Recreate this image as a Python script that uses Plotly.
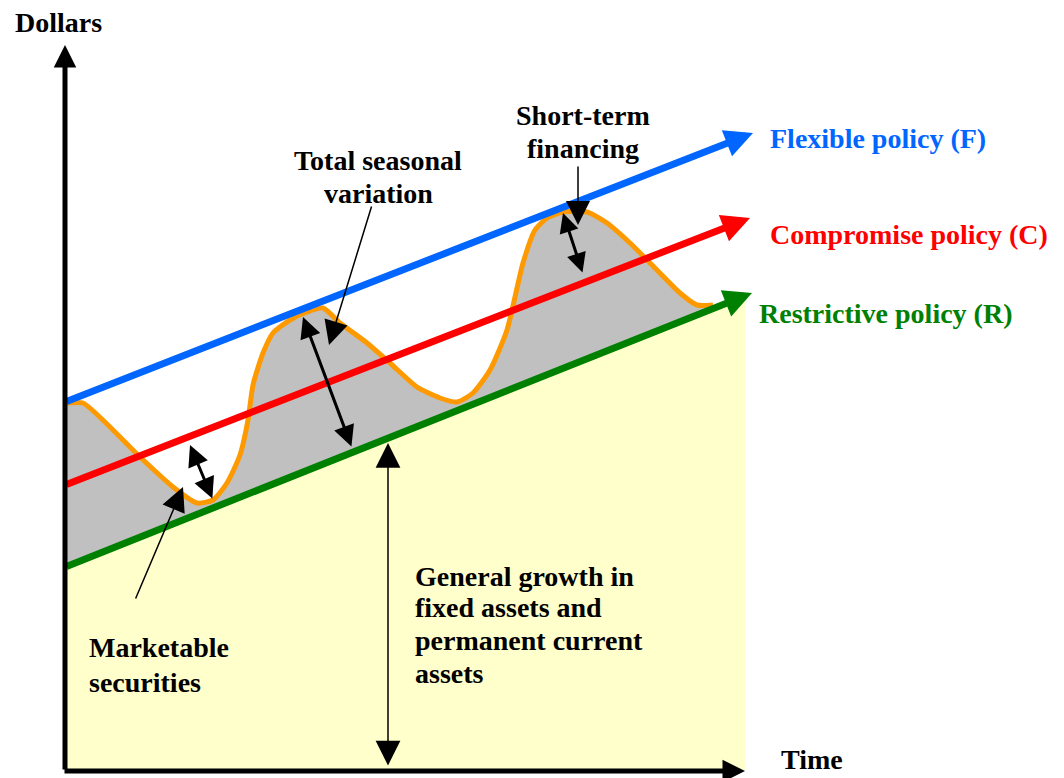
"""Working capital financing policies diagram."""

import plotly.graph_objects as go

# Coordinates: time on x, dollars on y (origin at the axes corner)
# Policy lines: start and end (arrow tip)
policy_names = ["Flexible policy (F)", "Compromise policy (C)", "Restrictive policy (R)"]
policy_colors = ["#0066FF", "#FF0000", "#008000"]
policy_t0 = [0, 0, 0]
policy_d0 = [368, 285, 203]
policy_t1 = [688, 685, 687]
policy_d1 = [637, 552, 477]
label_t = [703, 703, 692]
label_d = [632, 536, 457]

# Seasonal (total assets) curve
season_t = [0, 3, 18, 75, 108, 132, 148, 162, 175, 183, 188, 198, 208, 225, 242, 258,
            275, 302, 325, 352, 375, 392, 408, 425, 442, 458, 470, 482, 498, 522,
            542, 565, 592, 615, 632, 648]
season_d = [367, 367, 367, 313, 283, 267, 270, 287, 315, 350, 385, 417, 437, 450, 458, 462,
            447, 427, 407, 383, 372, 368, 377, 400, 440, 507, 540, 552, 558, 558,
            547, 527, 500, 477, 465, 465]

# Permanent assets (restrictive line) at the ends of the shaded area
base_t = [648, 0]
base_d = [462, 203]
growth_t = [0, 0, 680, 680]
growth_d = [0, 203, 474, 0]

# Axes
axis_x_t = [-2, 680]
axis_x_d = [-1, -1]
axis_y_t = [0, 0]
axis_y_d = [-1, 725]

# Callout arrows: (tip_t, tip_d, tail_t, tail_d, width, size, both_ends)
callouts = [
    (264, 425, 307, 565, 1.5, 3.2, False),   # total seasonal variation pointer
    (238, 453, 287, 322, 3, 1.4, True),      # total seasonal variation span
    (323, 327, 323, 3, 1.5, 3.3, True),      # general growth span
    (513, 545, 513, 605, 1.5, 3.2, False),   # short-term financing pointer
    (498, 557, 518, 496, 3, 1.3, True),      # short-term financing span
    (118, 283, 70, 170, 1.5, 3.2, False),    # marketable securities pointer
    (125, 325, 148, 270, 3, 1.4, True),      # marketable securities span
]

# Text lines: (text, t, d, anchor)
texts = [
    ("Dollars", -7, 748, "center"),
    ("Time", 747, 11, "center"),
    ("Short-term", 518, 655, "center"),
    ("financing", 518, 622, "center"),
    ("Total seasonal", 313, 610, "center"),
    ("variation", 313, 577, "center"),
    ("Marketable", 22, 123, "left"),
    ("securities", 22, 88, "left"),
    ("General growth in", 348, 194, "left"),
    ("fixed assets and", 348, 163, "left"),
    ("permanent current", 348, 130, "left"),
    ("assets", 348, 97, "left"),
]

FONT = "Liberation Serif"
SIZE = 28

fig = go.Figure()

# Permanent assets area
fig.add_trace(go.Scatter(
    x=growth_t, y=growth_d, mode="lines", fill="toself",
    fillcolor="#FFFFCC", line=dict(width=0), hoverinfo="skip",
))

# Seasonal variation area
fig.add_trace(go.Scatter(
    x=season_t + base_t, y=season_d + base_d, mode="lines", fill="toself",
    fillcolor="#C0C0C0", line=dict(width=0), hoverinfo="skip",
))
fig.add_trace(go.Scatter(
    x=[0, 0], y=[base_d[1], season_d[0]], mode="lines",
    line=dict(color="#FF9900", width=4), hoverinfo="skip",
))
fig.add_trace(go.Scatter(
    x=season_t, y=season_d, mode="lines",
    line=dict(color="#FF9900", width=5, shape="spline", smoothing=0.6),
    hoverinfo="skip",
))

annotations = []

# Policy lines with arrow heads
for name, c, t0, d0, t1, d1, lt, ld in zip(policy_names, policy_colors, policy_t0,
                                           policy_d0, policy_t1, policy_d1,
                                           label_t, label_d):
    annotations.append(dict(
        x=t1, y=d1, ax=t0, ay=d0, xref="x", yref="y", axref="x", ayref="y",
        text="", showarrow=True, arrowhead=2, arrowsize=0.8, arrowwidth=7,
        arrowcolor=c,
    ))
    annotations.append(dict(
        x=lt, y=ld, xref="x", yref="y", text="<b>%s</b>" % name, showarrow=False,
        xanchor="left", yanchor="middle", font=dict(family=FONT, size=SIZE, color=c),
    ))

# Axes arrows
annotations.append(dict(
    x=axis_x_t[1], y=axis_x_d[1], ax=axis_x_t[0], ay=axis_x_d[0],
    xref="x", yref="y", axref="x", ayref="y", text="", showarrow=True,
    arrowhead=2, arrowsize=0.9, arrowwidth=5, arrowcolor="black",
))
annotations.append(dict(
    x=axis_y_t[1], y=axis_y_d[1], ax=axis_y_t[0], ay=axis_y_d[0],
    xref="x", yref="y", axref="x", ayref="y", text="", showarrow=True,
    arrowhead=2, arrowsize=0.9, arrowwidth=5, arrowcolor="black",
))

# Callouts
for tt, td, at, ad, w, s, both in callouts:
    annotations.append(dict(
        x=tt, y=td, ax=at, ay=ad, xref="x", yref="y", axref="x", ayref="y",
        text="", showarrow=True, arrowhead=2, arrowsize=s, arrowwidth=w,
        arrowcolor="black", arrowside="end+start" if both else "end",
        startarrowhead=2, startarrowsize=s,
    ))

for txt, tx, ty, anchor in texts:
    annotations.append(dict(
        x=tx, y=ty, xref="x", yref="y", text="<b>%s</b>" % txt, showarrow=False,
        xanchor=anchor, yanchor="middle",
        font=dict(family=FONT, size=SIZE, color="black"),
    ))

# The page has an 8px body margin, so the figure is 8px smaller and the
# ranges are shifted to keep the drawing in place.
fig.update_layout(
    width=1056, height=770,
    margin=dict(l=0, r=0, t=0, b=0),
    paper_bgcolor="white", plot_bgcolor="white",
    showlegend=False,
    xaxis=dict(range=[-57, 999], visible=False, fixedrange=True),
    yaxis=dict(range=[-8, 762], visible=False, fixedrange=True),
    annotations=annotations,
)

fig.write_html("out.html")
